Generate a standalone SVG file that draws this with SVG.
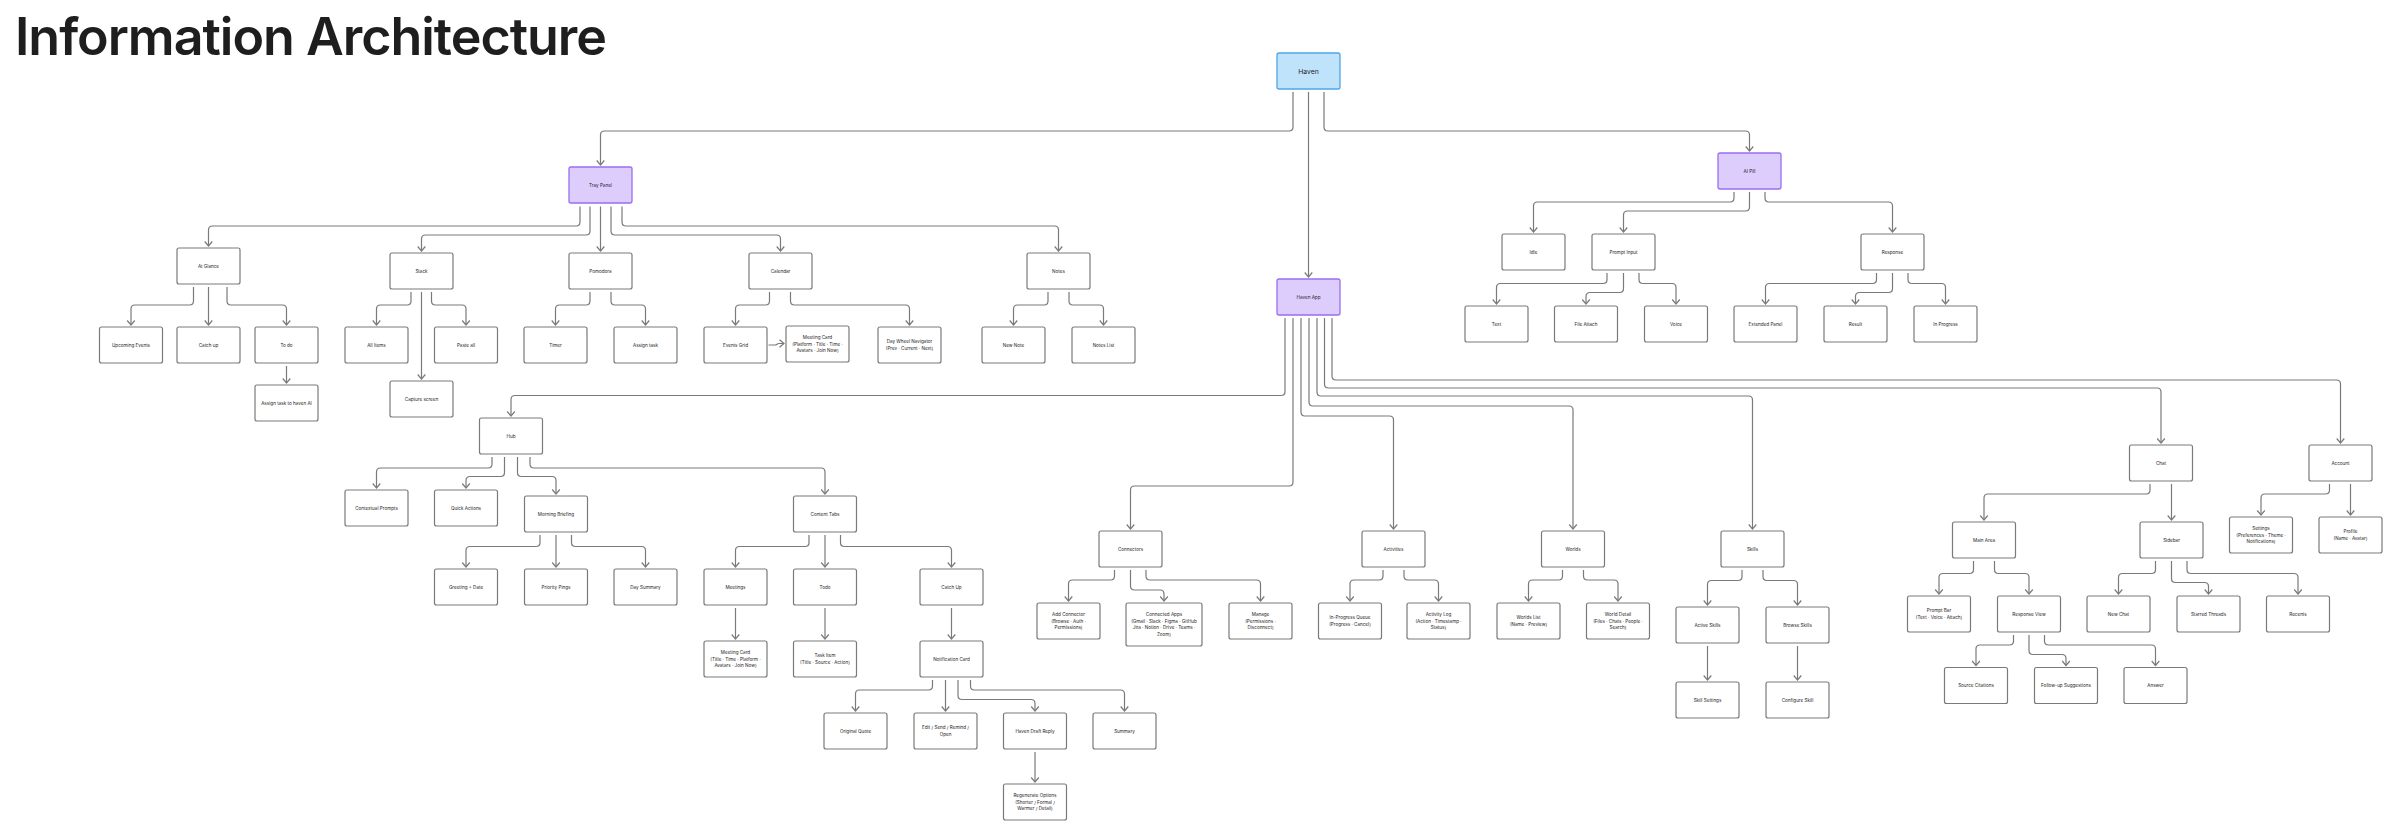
<svg xmlns="http://www.w3.org/2000/svg" width="2400" height="838" viewBox="0 0 2400 838">
<style>
.n rect{fill:#fff;stroke:#7a7a7a;stroke-width:1.2}
.p rect{fill:#DCCDFD;stroke:#9A6EF0;stroke-width:1.3}
.b rect{fill:#C0E3FC;stroke:#4EA6E9;stroke-width:1.3}
text{font-family:Inter,"Liberation Sans",sans-serif;font-size:4.6px;fill:#1e1e1e;text-anchor:middle;dominant-baseline:central}
#conn path{fill:none;stroke:#7a7a7a;stroke-width:1.2;marker-end:url(#arr)}
.title{font-size:52px;font-weight:600;text-anchor:start;dominant-baseline:auto;fill:#1e1e1e}
</style>
<defs>
<marker id="arr" viewBox="-6 -5 7 10" refX="0" refY="0" markerWidth="7" markerHeight="10" markerUnits="userSpaceOnUse" orient="auto">
<path d="M-4.5,-3.8 L0,0 L-4.5,3.8" fill="none" stroke="#7a7a7a" stroke-width="1.2"/>
</marker>
</defs>
<rect width="2400" height="838" fill="#fff"/>
<text class="title" x="15" y="55" textLength="592">Information Architecture</text>

<g id="conn">
<path d="M1293 92 V127 Q1293 131 1289 131 H604.5 Q600.5 131 600.5 135 V165"/>
<path d="M1308.5 92 V277"/>
<path d="M1324 92 V127 Q1324 131 1328 131 H1745.5 Q1749.5 131 1749.5 135 V151"/>
<path d="M580 206.5 V222 Q580 226 576 226 H212.5 Q208.5 226 208.5 230 V246"/>
<path d="M590 206.5 V231 Q590 235 586 235 H425.5 Q421.5 235 421.5 239 V251"/>
<path d="M600.5 206.5 V251"/>
<path d="M611 206.5 V231 Q611 235 615 235 H776.5 Q780.5 235 780.5 239 V251"/>
<path d="M622 206.5 V222 Q622 226 626 226 H1054.5 Q1058.5 226 1058.5 230 V251"/>
<path d="M193.5 287 V301 Q193.5 305 189.5 305 H135 Q131 305 131 309 V325"/>
<path d="M208.5 287 V325"/>
<path d="M227 287 V301 Q227 305 231 305 H282.5 Q286.5 305 286.5 309 V325"/>
<path d="M286.5 366 V383"/>
<path d="M411 292 V301 Q411 305 407 305 H380.5 Q376.5 305 376.5 309 V325"/>
<path d="M421.5 292 V379"/>
<path d="M431.5 292 V301 Q431.5 305 435.5 305 H462 Q466 305 466 309 V325"/>
<path d="M590 292 V301 Q590 305 586 305 H559.5 Q555.5 305 555.5 309 V325"/>
<path d="M611 292 V301 Q611 305 615 305 H641.5 Q645.5 305 645.5 309 V325"/>
<path d="M769.5 292 V301 Q769.5 305 765.5 305 H739.5 Q735.5 305 735.5 309 V325"/>
<path d="M790.5 292 V301 Q790.5 305 794.5 305 H905.5 Q909.5 305 909.5 309 V325"/>
<path d="M768.5 345 H775 C777 345 777 343.5 779 343.5 H784"/>
<path d="M1048 292 V301 Q1048 305 1044 305 H1017.5 Q1013.5 305 1013.5 309 V325"/>
<path d="M1069 292 V301 Q1069 305 1073 305 H1099.5 Q1103.5 305 1103.5 309 V325"/>
<path d="M1734 192 V198 Q1734 202 1730 202 H1537.5 Q1533.5 202 1533.5 206 V232"/>
<path d="M1749.5 192 V207 Q1749.5 211 1745.5 211 H1627.5 Q1623.5 211 1623.5 215 V232"/>
<path d="M1765 192 V198 Q1765 202 1769 202 H1888.5 Q1892.5 202 1892.5 206 V232"/>
<path d="M1607 273 V279.5 Q1607 283.5 1603 283.5 H1500.5 Q1496.5 283.5 1496.5 287.5 V304"/>
<path d="M1623.5 273 V288.5 Q1623.5 292.5 1619.5 292.5 H1590 Q1586 292.5 1586 296.5 V304"/>
<path d="M1639 273 V279.5 Q1639 283.5 1643 283.5 H1672 Q1676 283.5 1676 287.5 V304"/>
<path d="M1876.5 273 V279.5 Q1876.5 283.5 1872.5 283.5 H1769.5 Q1765.5 283.5 1765.5 287.5 V304"/>
<path d="M1892.5 273 V288.5 Q1892.5 292.5 1888.5 292.5 H1859.5 Q1855.5 292.5 1855.5 296.5 V304"/>
<path d="M1908 273 V279.5 Q1908 283.5 1912 283.5 H1941.5 Q1945.5 283.5 1945.5 287.5 V304"/>
<path d="M1285 318 V391.5 Q1285 395.5 1281 395.5 H515 Q511 395.5 511 399.5 V416"/>
<path d="M1293 318 V482 Q1293 486 1289 486 H1134.5 Q1130.5 486 1130.5 490 V529"/>
<path d="M1301 318 V412 Q1301 416 1305 416 H1389.5 Q1393.5 416 1393.5 420 V529"/>
<path d="M1309 318 V402 Q1309 406 1313 406 H1569 Q1573 406 1573 410 V529"/>
<path d="M1317 318 V392 Q1317 396 1321 396 H1748.5 Q1752.5 396 1752.5 400 V529"/>
<path d="M1324.5 318 V384 Q1324.5 388 1328.5 388 H2157 Q2161 388 2161 392 V443"/>
<path d="M1332 318 V376 Q1332 380 1336 380 H2336.5 Q2340.5 380 2340.5 384 V443"/>
<path d="M492 457 V464 Q492 468 488 468 H380.5 Q376.5 468 376.5 472 V488"/>
<path d="M504.5 457 V472.5 Q504.5 476.5 500.5 476.5 H470 Q466 476.5 466 480.5 V488"/>
<path d="M517.5 457 V472.5 Q517.5 476.5 521.5 476.5 H552 Q556 476.5 556 480.5 V494"/>
<path d="M530 457 V464 Q530 468 534 468 H821 Q825 468 825 472 V494"/>
<path d="M540 535 V542.5 Q540 546.5 536 546.5 H470 Q466 546.5 466 550.5 V567"/>
<path d="M556 535 V567"/>
<path d="M571.5 535 V542.5 Q571.5 546.5 575.5 546.5 H641.5 Q645.5 546.5 645.5 550.5 V567"/>
<path d="M809 535 V542.5 Q809 546.5 805 546.5 H739.5 Q735.5 546.5 735.5 550.5 V567"/>
<path d="M825 535 V567"/>
<path d="M840.5 535 V542.5 Q840.5 546.5 844.5 546.5 H947.5 Q951.5 546.5 951.5 550.5 V567"/>
<path d="M735.5 608 V639"/>
<path d="M825 608 V639"/>
<path d="M951.5 608 V639"/>
<path d="M932.5 680 V686 Q932.5 690 928.5 690 H859.5 Q855.5 690 855.5 694 V711"/>
<path d="M945.5 680 V711"/>
<path d="M958 680 V695.5 Q958 699.5 962 699.5 H1031 Q1035 699.5 1035 703.5 V711"/>
<path d="M970.5 680 V686 Q970.5 690 974.5 690 H1120.5 Q1124.5 690 1124.5 694 V711"/>
<path d="M1035 752 V782"/>
<path d="M1114.5 570 V576 Q1114.5 580 1110.5 580 H1072.5 Q1068.5 580 1068.5 584 V601"/>
<path d="M1130.5 570 V586 Q1130.5 590 1134.5 590 H1160 Q1164 590 1164 594 V601"/>
<path d="M1146 570 V576 Q1146 580 1150 580 H1256.5 Q1260.5 580 1260.5 584 V601"/>
<path d="M1383 570 V576 Q1383 580 1379 580 H1354 Q1350 580 1350 584 V601"/>
<path d="M1404 570 V576 Q1404 580 1408 580 H1434.5 Q1438.5 580 1438.5 584 V601"/>
<path d="M1562.5 570 V576 Q1562.5 580 1558.5 580 H1532.5 Q1528.5 580 1528.5 584 V601"/>
<path d="M1583.5 570 V576 Q1583.5 580 1587.5 580 H1614 Q1618 580 1618 584 V601"/>
<path d="M1742 570 V576.5 Q1742 580.5 1738 580.5 H1711.5 Q1707.5 580.5 1707.5 584.5 V605"/>
<path d="M1763 570 V576.5 Q1763 580.5 1767 580.5 H1793.5 Q1797.5 580.5 1797.5 584.5 V605"/>
<path d="M1707.5 646 V680"/>
<path d="M1797.5 646 V680"/>
<path d="M2150 484 V490 Q2150 494 2146 494 H1988 Q1984 494 1984 498 V520"/>
<path d="M2171.5 484 V520"/>
<path d="M2329.5 484 V490 Q2329.5 494 2325.5 494 H2265 Q2261 494 2261 498 V515"/>
<path d="M2350.5 484 V515"/>
<path d="M1973.5 561 V569.5 Q1973.5 573.5 1969.5 573.5 H1943 Q1939 573.5 1939 577.5 V594"/>
<path d="M1994.5 561 V569.5 Q1994.5 573.5 1998.5 573.5 H2025 Q2029 573.5 2029 577.5 V594"/>
<path d="M2155.5 561 V569.5 Q2155.5 573.5 2151.5 573.5 H2122.5 Q2118.5 573.5 2118.5 577.5 V594"/>
<path d="M2171.5 561 V578.5 Q2171.5 582.5 2175.5 582.5 H2204.5 Q2208.5 582.5 2208.5 586.5 V594"/>
<path d="M2187 561 V569.5 Q2187 573.5 2191 573.5 H2294 Q2298 573.5 2298 577.5 V594"/>
<path d="M2013.5 635 V641 Q2013.5 645 2009.5 645 H1980 Q1976 645 1976 649 V665.5"/>
<path d="M2029 635 V650.5 Q2029 654.5 2033 654.5 H2062 Q2066 654.5 2066 658.5 V665.5"/>
<path d="M2044.5 635 V641 Q2044.5 645 2048.5 645 H2151.5 Q2155.5 645 2155.5 649 V665.5"/>
</g>

<g id="haven" class="b"><rect x="1277" y="53" width="63" height="36" rx="2"/><text x="1308.5" y="71" style="font-size:6.8px">Haven</text></g>
<g id="tray-panel" class="p"><rect x="569" y="167" width="63" height="36" rx="2"/><text x="600.5" y="185">Tray Panel</text></g>
<g id="ai-pill" class="p"><rect x="1718" y="153" width="63" height="36" rx="2"/><text x="1749.5" y="171">AI Pill</text></g>
<g id="haven-app" class="p"><rect x="1277" y="279" width="63" height="36" rx="2"/><text x="1308.5" y="297">Haven App</text></g>

<g id="at-glance" class="n"><rect x="177" y="248" width="63" height="36" rx="2"/><text x="208.5" y="266">At Glance</text></g>
<g id="stack" class="n"><rect x="390" y="253" width="63" height="36" rx="2"/><text x="421.5" y="271">Stack</text></g>
<g id="pomodora" class="n"><rect x="569" y="253" width="63" height="36" rx="2"/><text x="600.5" y="271">Pomodora</text></g>
<g id="calendar" class="n"><rect x="749" y="253" width="63" height="36" rx="2"/><text x="780.5" y="271">Calendar</text></g>
<g id="notes" class="n"><rect x="1027" y="253" width="63" height="36" rx="2"/><text x="1058.5" y="271">Notes</text></g>
<g id="upcoming-events" class="n"><rect x="99.5" y="327" width="63" height="36" rx="2"/><text x="131" y="345">Upcoming Events</text></g>
<g id="catch-up" class="n"><rect x="177" y="327" width="63" height="36" rx="2"/><text x="208.5" y="345">Catch up</text></g>
<g id="to-do" class="n"><rect x="255" y="327" width="63" height="36" rx="2"/><text x="286.5" y="345">To do</text></g>
<g id="assign-ai" class="n"><rect x="255" y="385" width="63" height="36" rx="2"/><text x="286.5" y="403">Assign task to haven AI</text></g>
<g id="all-items" class="n"><rect x="345" y="327" width="63" height="36" rx="2"/><text x="376.5" y="345">All Items</text></g>
<g id="paste-all" class="n"><rect x="434.5" y="327" width="63" height="36" rx="2"/><text x="466" y="345">Paste all</text></g>
<g id="capture-screen" class="n"><rect x="390" y="381" width="63" height="36" rx="2"/><text x="421.5" y="399">Capture screen</text></g>
<g id="timer" class="n"><rect x="524" y="327" width="63" height="36" rx="2"/><text x="555.5" y="345">Timer</text></g>
<g id="assign-task" class="n"><rect x="614" y="327" width="63" height="36" rx="2"/><text x="645.5" y="345">Assign task</text></g>
<g id="events-grid" class="n"><rect x="704" y="327" width="63" height="36" rx="2"/><text x="735.5" y="345">Events Grid</text></g>
<g id="meeting-card-cal" class="n"><rect x="786" y="326" width="63" height="36" rx="2"/><text x="817.5" y="337.3">Meeting Card</text><text x="817.5" y="344">(Platform · Title · Time ·</text><text x="817.5" y="350.7">Avatars · Join Now)</text></g>
<g id="day-wheel" class="n"><rect x="878" y="327" width="63" height="36" rx="2"/><text x="909.5" y="341.7">Day Wheel Navigator</text><text x="909.5" y="348.3">(Prev · Current · Next)</text></g>
<g id="new-note" class="n"><rect x="982" y="327" width="63" height="36" rx="2"/><text x="1013.5" y="345">New Note</text></g>
<g id="notes-list" class="n"><rect x="1072" y="327" width="63" height="36" rx="2"/><text x="1103.5" y="345">Notes List</text></g>

<g id="idle" class="n"><rect x="1502" y="234" width="63" height="36" rx="2"/><text x="1533.5" y="252">Idle</text></g>
<g id="prompt-input" class="n"><rect x="1592" y="234" width="63" height="36" rx="2"/><text x="1623.5" y="252">Prompt Input</text></g>
<g id="response" class="n"><rect x="1861" y="234" width="63" height="36" rx="2"/><text x="1892.5" y="252">Response</text></g>
<g id="text-node" class="n"><rect x="1465" y="306" width="63" height="36" rx="2"/><text x="1496.5" y="324">Text</text></g>
<g id="file-attach" class="n"><rect x="1554.5" y="306" width="63" height="36" rx="2"/><text x="1586" y="324">File Attach</text></g>
<g id="voice" class="n"><rect x="1644.5" y="306" width="63" height="36" rx="2"/><text x="1676" y="324">Voice</text></g>
<g id="extended-panel" class="n"><rect x="1734" y="306" width="63" height="36" rx="2"/><text x="1765.5" y="324">Extended Panel</text></g>
<g id="result" class="n"><rect x="1824" y="306" width="63" height="36" rx="2"/><text x="1855.5" y="324">Result</text></g>
<g id="in-progress" class="n"><rect x="1914" y="306" width="63" height="36" rx="2"/><text x="1945.5" y="324">In Progress</text></g>

<g id="hub" class="n"><rect x="479.5" y="418" width="63" height="36" rx="2"/><text x="511" y="436">Hub</text></g>
<g id="connectors" class="n"><rect x="1099" y="531" width="63" height="36" rx="2"/><text x="1130.5" y="549">Connectors</text></g>
<g id="activities" class="n"><rect x="1362" y="531" width="63" height="36" rx="2"/><text x="1393.5" y="549">Activities</text></g>
<g id="worlds" class="n"><rect x="1541.5" y="531" width="63" height="36" rx="2"/><text x="1573" y="549">Worlds</text></g>
<g id="skills" class="n"><rect x="1721" y="531" width="63" height="36" rx="2"/><text x="1752.5" y="549">Skills</text></g>
<g id="chat" class="n"><rect x="2129.5" y="445" width="63" height="36" rx="2"/><text x="2161" y="463">Chat</text></g>
<g id="account" class="n"><rect x="2309" y="445" width="63" height="36" rx="2"/><text x="2340.5" y="463">Account</text></g>

<g id="contextual-prompts" class="n"><rect x="345" y="490" width="63" height="36" rx="2"/><text x="376.5" y="508">Contextual Prompts</text></g>
<g id="quick-actions" class="n"><rect x="434.5" y="490" width="63" height="36" rx="2"/><text x="466" y="508">Quick Actions</text></g>
<g id="morning-briefing" class="n"><rect x="524.5" y="496" width="63" height="36" rx="2"/><text x="556" y="514">Morning Briefing</text></g>
<g id="content-tabs" class="n"><rect x="793.5" y="496" width="63" height="36" rx="2"/><text x="825" y="514">Content Tabs</text></g>
<g id="greeting-date" class="n"><rect x="434.5" y="569" width="63" height="36" rx="2"/><text x="466" y="587">Greeting + Date</text></g>
<g id="priority-pings" class="n"><rect x="524.5" y="569" width="63" height="36" rx="2"/><text x="556" y="587">Priority Pings</text></g>
<g id="day-summary" class="n"><rect x="614" y="569" width="63" height="36" rx="2"/><text x="645.5" y="587">Day Summary</text></g>
<g id="meetings" class="n"><rect x="704" y="569" width="63" height="36" rx="2"/><text x="735.5" y="587">Meetings</text></g>
<g id="todo" class="n"><rect x="793.5" y="569" width="63" height="36" rx="2"/><text x="825" y="587">Todo</text></g>
<g id="catch-up-tab" class="n"><rect x="920" y="569" width="63" height="36" rx="2"/><text x="951.5" y="587">Catch Up</text></g>
<g id="meeting-card-hub" class="n"><rect x="704" y="641" width="63" height="36" rx="2"/><text x="735.5" y="652.3">Meeting Card</text><text x="735.5" y="659">(Title · Time · Platform ·</text><text x="735.5" y="665.7">Avatars · Join Now)</text></g>
<g id="task-item" class="n"><rect x="793.5" y="641" width="63" height="36" rx="2"/><text x="825" y="655.7">Task Item</text><text x="825" y="662.3">(Title · Source · Action)</text></g>
<g id="notification-card" class="n"><rect x="920" y="641" width="63" height="36" rx="2"/><text x="951.5" y="659">Notification Card</text></g>
<g id="original-quote" class="n"><rect x="824" y="713" width="63" height="36" rx="2"/><text x="855.5" y="731">Original Quote</text></g>
<g id="edit-send" class="n"><rect x="914" y="713" width="63" height="36" rx="2"/><text x="945.5" y="727.7">Edit / Send / Remind /</text><text x="945.5" y="734.3">Open</text></g>
<g id="haven-draft-reply" class="n"><rect x="1003.5" y="713" width="63" height="36" rx="2"/><text x="1035" y="731">Haven Draft Reply</text></g>
<g id="summary" class="n"><rect x="1093" y="713" width="63" height="36" rx="2"/><text x="1124.5" y="731">Summary</text></g>
<g id="regenerate-options" class="n"><rect x="1003.5" y="784" width="63" height="36" rx="2"/><text x="1035" y="795.3">Regenerate Options</text><text x="1035" y="802">(Shorter / Formal /</text><text x="1035" y="808.7">Warmer / Detail)</text></g>

<g id="add-connector" class="n"><rect x="1037" y="603" width="63" height="36" rx="2"/><text x="1068.5" y="614.3">Add Connector</text><text x="1068.5" y="621">(Browse · Auth ·</text><text x="1068.5" y="627.7">Permissions)</text></g>
<g id="connected-apps" class="n"><rect x="1126" y="603" width="76" height="43" rx="2"/><text x="1164" y="614.5">Connected Apps</text><text x="1164" y="621.2">(Gmail · Slack · Figma · GitHub</text><text x="1164" y="627.9">Jira · Notion · Drive · Teams ·</text><text x="1164" y="634.6">Zoom)</text></g>
<g id="manage" class="n"><rect x="1229" y="603" width="63" height="36" rx="2"/><text x="1260.5" y="614.3">Manage</text><text x="1260.5" y="621">(Permissions ·</text><text x="1260.5" y="627.7">Disconnect)</text></g>
<g id="in-progress-queue" class="n"><rect x="1318.5" y="603" width="63" height="36" rx="2"/><text x="1350" y="617.7">In-Progress Queue</text><text x="1350" y="624.3">(Progress · Cancel)</text></g>
<g id="activity-log" class="n"><rect x="1407" y="603" width="63" height="36" rx="2"/><text x="1438.5" y="614.3">Activity Log</text><text x="1438.5" y="621">(Action · Timestamp ·</text><text x="1438.5" y="627.7">Status)</text></g>
<g id="worlds-list" class="n"><rect x="1497" y="603" width="63" height="36" rx="2"/><text x="1528.5" y="617.7">Worlds List</text><text x="1528.5" y="624.3">(Name · Preview)</text></g>
<g id="world-detail" class="n"><rect x="1586.5" y="603" width="63" height="36" rx="2"/><text x="1618" y="614.3">World Detail</text><text x="1618" y="621">(Files · Chats · People ·</text><text x="1618" y="627.7">Search)</text></g>
<g id="active-skills" class="n"><rect x="1676" y="607" width="63" height="36" rx="2"/><text x="1707.5" y="625">Active Skills</text></g>
<g id="browse-skills" class="n"><rect x="1766" y="607" width="63" height="36" rx="2"/><text x="1797.5" y="625">Browse Skills</text></g>
<g id="skill-settings" class="n"><rect x="1676" y="682" width="63" height="36" rx="2"/><text x="1707.5" y="700">Skill Settings</text></g>
<g id="configure-skill" class="n"><rect x="1766" y="682" width="63" height="36" rx="2"/><text x="1797.5" y="700">Configure Skill</text></g>

<g id="main-area" class="n"><rect x="1952.5" y="522" width="63" height="36" rx="2"/><text x="1984" y="540">Main Area</text></g>
<g id="sidebar" class="n"><rect x="2140" y="522" width="63" height="36" rx="2"/><text x="2171.5" y="540">Sidebar</text></g>
<g id="settings" class="n"><rect x="2229.5" y="517" width="63" height="36" rx="2"/><text x="2261" y="528.3">Settings</text><text x="2261" y="535">(Preferences · Theme ·</text><text x="2261" y="541.7">Notifications)</text></g>
<g id="profile" class="n"><rect x="2319" y="517" width="63" height="36" rx="2"/><text x="2350.5" y="531.7">Profile</text><text x="2350.5" y="538.3">(Name · Avatar)</text></g>
<g id="prompt-bar" class="n"><rect x="1907.5" y="596" width="63" height="36" rx="2"/><text x="1939" y="610.7">Prompt Bar</text><text x="1939" y="617.3">(Text · Voice · Attach)</text></g>
<g id="response-view" class="n"><rect x="1997.5" y="596" width="63" height="36" rx="2"/><text x="2029" y="614">Response View</text></g>
<g id="new-chat" class="n"><rect x="2087" y="596" width="63" height="36" rx="2"/><text x="2118.5" y="614">New Chat</text></g>
<g id="starred-threads" class="n"><rect x="2177" y="596" width="63" height="36" rx="2"/><text x="2208.5" y="614">Starred Threads</text></g>
<g id="recents" class="n"><rect x="2266.5" y="596" width="63" height="36" rx="2"/><text x="2298" y="614">Recents</text></g>
<g id="source-citations" class="n"><rect x="1944.5" y="667.5" width="63" height="36" rx="2"/><text x="1976" y="685.5">Source Citations</text></g>
<g id="follow-up" class="n"><rect x="2034.5" y="667.5" width="63" height="36" rx="2"/><text x="2066" y="685.5">Follow-up Suggestions</text></g>
<g id="answer" class="n"><rect x="2124" y="667.5" width="63" height="36" rx="2"/><text x="2155.5" y="685.5">Answer</text></g>
</svg>
